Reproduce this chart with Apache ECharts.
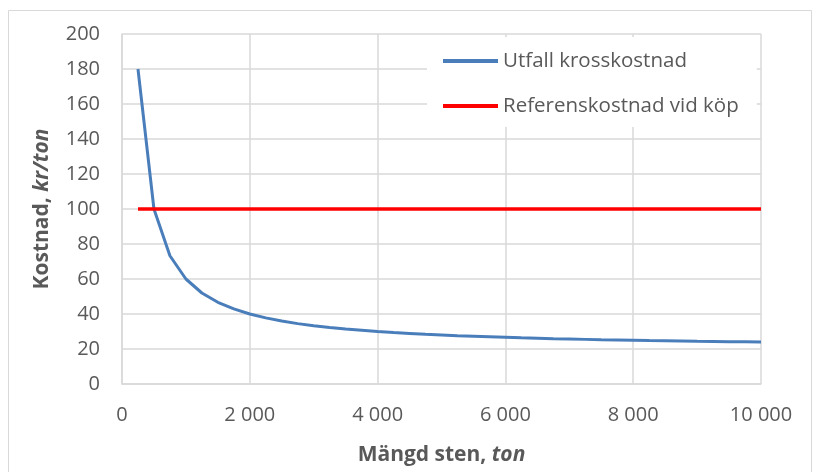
<!DOCTYPE html>
<html lang="sv">
<head>
    <meta charset="UTF-8">
    <title>Kostnad</title>
    <script src="https://cdn.jsdelivr.net/npm/echarts@6/dist/echarts.min.js"></script>
</head>
<style>
    * { margin: 0; padding: 0; }
    html, body { width: 100%; height: 100%; overflow: hidden; background: #fff; }
    .container { width: 821px; height: 472px; }
</style>
<body>
    <div class="container"></div>
</body>
<script>
    // mängd sten (ton) och kostnad (kr/ton)
    let mangd = [250, 500, 750, 1000, 1250, 1500, 1750, 2000, 2250, 2500,
        2750, 3000, 3250, 3500, 3750, 4000, 4250, 4500, 4750, 5000,
        5250, 5500, 5750, 6000, 6250, 6500, 6750, 7000, 7250, 7500,
        7750, 8000, 8250, 8500, 8750, 9000, 9250, 9500, 9750, 10000];
    let utfall = [180, 100, 73.3, 60, 52, 46.7, 42.9, 40, 37.8, 36,
        34.5, 33.3, 32.3, 31.4, 30.7, 30, 29.4, 28.9, 28.4, 28,
        27.6, 27.3, 27, 26.7, 26.4, 26.2, 25.9, 25.7, 25.5, 25.3,
        25.2, 25, 24.8, 24.7, 24.6, 24.4, 24.3, 24.2, 24.1, 24];
    let refMangd = [250, 10000];
    let refKostnad = [100, 100];
    let seriesNames = ['Utfall krosskostnad', 'Referenskostnad vid köp'];

    let container = document.querySelector(".container");
    let mycharts = echarts.init(container);
    let font = 'Open Sans';
    let grey = '#595959';

    let titleRich = {
        b: { fontSize: 21, fontWeight: 'bold', color: grey, fontFamily: font },
        i: { fontSize: 21, fontWeight: 'bold', fontStyle: 'italic', color: grey, fontFamily: font }
    };

    let option = {
        animation: false,
        textStyle: { fontFamily: font },
        graphic: [{
            type: 'rect',
            shape: { x: 8.5, y: 10.5, width: 803, height: 470 },
            style: { fill: 'none', stroke: '#d9d9d9', lineWidth: 1 }
        }],
        grid: { left: 122, right: 60, top: 34, bottom: 88 },
        legend: {
            orient: 'vertical',
            left: 427,
            top: 37,
            padding: [11, 18, 8, 16],
            backgroundColor: '#fff',
            itemWidth: 55,
            itemHeight: 4,
            itemGap: 19,
            icon: 'rect',
            textStyle: { fontSize: 20.5, color: grey, fontFamily: font, lineHeight: 26 },
            data: seriesNames
        },
        xAxis: {
            type: 'value',
            min: 0, max: 10000, interval: 2000,
            name: '{b|Mängd sten, }{i|ton}',
            nameLocation: 'middle',
            nameGap: 61,
            nameTextStyle: { rich: titleRich },
            axisLine: { lineStyle: { color: '#d9d9d9', width: 1.5 } },
            axisTick: { show: false },
            axisLabel: {
                fontSize: 20, color: grey, margin: 21,
                formatter: v => String(v).replace(/\B(?=(\d{3})+(?!\d))/g, ' ')
            },
            splitLine: { lineStyle: { color: '#d9d9d9', width: 1.5 } }
        },
        yAxis: {
            type: 'value',
            min: 0, max: 200, interval: 20,
            name: '{b|Kostnad, }{i|kr/ton}',
            nameLocation: 'middle',
            nameGap: 69,
            nameTextStyle: { rich: titleRich },
            axisLine: { show: true, lineStyle: { color: '#d9d9d9', width: 1.5 } },
            axisTick: { show: false },
            axisLabel: { fontSize: 20, color: grey, margin: 22 },
            splitLine: { lineStyle: { color: '#d9d9d9', width: 1.5 } }
        },
        series: [{
            name: seriesNames[0],
            type: 'line',
            data: mangd.map((x, i) => [x, utfall[i]]),
            showSymbol: false,
            color: '#4a7ebb',
            lineStyle: { width: 3, color: '#4a7ebb' },
            z: 3
        }, {
            name: seriesNames[1],
            type: 'line',
            data: refMangd.map((x, i) => [x, refKostnad[i]]),
            showSymbol: false,
            color: '#ff0000',
            lineStyle: { width: 3.5, color: '#ff0000' },
            z: 4
        }]
    };
    mycharts.setOption(option);
</script>
</html>
